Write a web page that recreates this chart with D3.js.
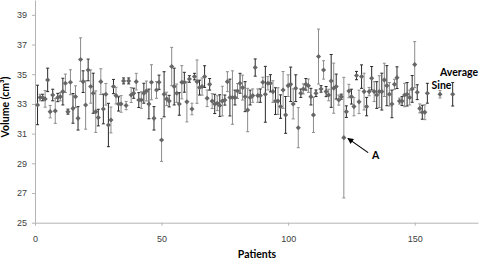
<!DOCTYPE html>
<html>
<head>
<meta charset="utf-8">
<script src="https://cdn.jsdelivr.net/npm/d3@7/dist/d3.min.js"></script>
<style>
    body { margin: 0; background: #fff; }
    svg { display: block; font-family: Lato, "Open Sans", sans-serif; }
    .axis path, .axis line { stroke: #b4b4b4; }
    .axis text { fill: #404040; font-size: 9px; }
    .title { font-weight: bold; font-size: 10.5px; fill: #000; }
</style>
</head>
<body>
<script>
var volumes = [
    32.93, 33.43, 33.43, 33.34, 34.62, 32.48, 33.6, 32.53, 33.43, 33.49,
    33.83, 34.39, 32.48, 34.46, 32.7, 33.49, 32.03, 35.99, 34.5, 32.93,
    35.29, 34.17, 33.72, 32.48, 32.08, 34.5, 32.66, 33.65, 31.58, 31.92,
    34.17, 33.56, 33.0, 33.0, 34.55, 32.89, 34.55, 33.6, 33.72, 34.5,
    33.26, 33.26, 33.72, 33.87, 33.0, 34.46, 32.03, 33.94, 34.46, 30.57,
    33.65, 33.34, 33.19, 35.52, 34.17, 33.72, 33.0, 34.46, 34.46, 33.14,
    34.68, 32.66, 34.84, 34.5, 34.1, 34.17, 34.84, 33.38, 34.32, 33.19,
    33.0, 33.05, 32.89, 33.19, 33.26, 34.5, 33.43, 33.43, 33.43, 33.87,
    34.39, 34.1, 33.49, 32.59, 33.43, 33.56, 35.45, 33.56, 33.56, 34.46,
    33.65, 34.39, 34.39, 33.83, 33.19, 33.19, 32.82, 33.94, 32.26, 34.23,
    34.32, 33.0, 34.06, 31.4, 33.72, 34.01, 34.32, 34.23, 33.49, 32.26,
    33.72, 36.19, 34.01, 35.29, 33.83, 33.6, 34.55, 34.06, 34.17, 33.26,
    33.49, 30.73, 32.48, 33.87, 33.49, 32.82, 34.91, 33.14, 34.84, 33.83,
    32.82, 33.83, 34.73, 33.83, 33.6, 33.83, 33.83, 34.62, 34.23, 33.65,
    33.0, 34.32, 34.77, 33.19, 33.19, 33.6, 33.65, 33.43, 34.01, 35.65,
    33.79, 32.7, 32.44, 32.44, 33.72
];
var errors = [
    1.33, 0.22, 0.22, 0.56, 0.79, 0.42, 0.39, 0.84, 0.28, 0.28,
    0.9, 0.62, 0.17, 0.84, 1.0, 0.73, 0.79, 1.46, 0.73, 1.63,
    0.73, 1.12, 1.35, 1.4, 0.56, 0.87, 1.0, 0.73, 1.46, 0.87,
    0.48, 0.56, 0.48, 0.56, 0.2, 0.28, 0.2, 0.5, 0.34, 0.56,
    0.5, 0.56, 0.67, 0.67, 1.0, 1.18, 0.79, 0.56, 0.48, 1.44,
    1.52, 0.45, 0.39, 1.29, 1.24, 0.62, 0.76, 1.12, 0.67, 1.35,
    0.22, 0.39, 0.22, 1.46, 0.5, 0.58, 0.73, 0.56, 0.39, 0.5,
    0.65, 0.5, 0.73, 1.0, 0.34, 0.67, 1.24, 1.8, 0.5, 0.5,
    0.67, 0.84, 1.01, 1.46, 0.5, 0.45, 0.58, 0.45, 0.45, 0.34,
    1.88, 0.45, 0.58, 0.73, 0.9, 0.9, 0.79, 1.24, 1.24, 0.73,
    1.16, 1.01, 0.9, 1.35, 0.28, 0.34, 0.39, 0.45, 0.56, 1.18,
    0.22, 1.85, 0.22, 0.62, 0.34, 0.39, 1.78, 1.69, 0.84, 0.34,
    0.17, 4.06, 0.39, 0.45, 0.5, 0.62, 0.28, 0.79, 0.79, 1.24,
    0.62, 0.28, 0.79, 0.67, 0.9, 1.07, 1.24, 1.12, 1.35, 0.79,
    0.93, 0.34, 0.73, 0.2, 0.3, 0.79, 0.79, 0.5, 0.9, 1.55,
    0.5, 0.3, 0.47, 0.5, 0.67
];
var summaryLabels = ['Sine', 'Average'],
    summaryPos = [160, 165],
    summaryValues = [33.65, 33.65],
    summaryErrors = [0.25, 0.79];
var xTicks = [0, 50, 100, 150],
    yTicks = [25, 27, 29, 31, 33, 35, 37, 39];

var points = volumes.map(function(v, i) {
    return { x: i + 1, value: v, err: errors[i] };
}).concat(summaryValues.map(function(v, i) {
    return { x: summaryPos[i], value: v, err: summaryErrors[i] };
}));

var svg = d3.select('body').append('svg')
        .attr('width', 480)
        .attr('height', 260),
    xScale = d3.scaleLinear().domain([0, 175]).range([35, 478]),
    yScale = d3.scaleLinear().domain([25, 40]).range([222.7, 0]);

svg.append('defs').append('marker')
    .attr('id', 'arrow')
    .attr('viewBox', '0 0 10 10')
    .attr('refX', 9)
    .attr('refY', 5)
    .attr('markerWidth', 5)
    .attr('markerHeight', 5)
    .attr('orient', 'auto')
    .append('path')
    .attr('d', 'M0,0L10,5L0,10Z')
    .attr('fill', '#000');

svg.append('g')
    .attr('class', 'axis')
    .attr('transform', 'translate(35,0)')
    .call(d3.axisLeft(yScale).tickValues(yTicks).tickSize(3).tickSizeOuter(0).tickPadding(5));

svg.append('g')
    .attr('class', 'axis')
    .attr('transform', 'translate(0,222.7)')
    .call(d3.axisBottom(xScale).tickValues(xTicks).tickSize(3).tickSizeOuter(0).tickPadding(10));

var bars = svg.append('g').selectAll('g')
    .data(points)
    .enter()
    .append('g')
    .attr('stroke', function(d, i) { return i % 2 ? '#8c8c8c' : '#2a2a2a'; })
    .attr('stroke-width', 1);

bars.append('line')
    .attr('x1', function(d) { return xScale(d.x); })
    .attr('x2', function(d) { return xScale(d.x); })
    .attr('y1', function(d) { return yScale(d.value + d.err); })
    .attr('y2', function(d) { return yScale(d.value - d.err); });

bars.selectAll('.cap')
    .data(function(d) { return [[d.x, d.value + d.err], [d.x, d.value - d.err]]; })
    .enter()
    .append('line')
    .attr('class', 'cap')
    .attr('x1', function(d) { return xScale(d[0]) - 1.5; })
    .attr('x2', function(d) { return xScale(d[0]) + 1.5; })
    .attr('y1', function(d) { return yScale(d[1]); })
    .attr('y2', function(d) { return yScale(d[1]); });

svg.append('g').selectAll('path')
    .data(points)
    .enter()
    .append('path')
    .attr('d', d3.symbol(d3.symbolSquare, 13))
    .attr('transform', function(d) { return 'translate(' + xScale(d.x) + ',' + yScale(d.value) + ') rotate(45)'; })
    .attr('fill', '#666');

// annotations
svg.append('line')
    .attr('x1', xScale(131.6))
    .attr('y1', yScale(29.72))
    .attr('x2', xScale(123.6))
    .attr('y2', yScale(30.68))
    .attr('stroke', '#000')
    .attr('stroke-width', 1.2)
    .attr('marker-end', 'url(#arrow)');

svg.append('text')
    .attr('class', 'title')
    .attr('x', xScale(133.1))
    .attr('y', yScale(29.28))
    .text('A');

svg.selectAll('.slabel')
    .data(summaryLabels)
    .enter()
    .append('text')
    .attr('class', 'title slabel')
    .attr('x', function(d, i) { return i ? 440 : 431.5; })
    .attr('y', function(d, i) { return i ? 76 : 88.5; })
    .text(function(d) { return d; });

svg.append('text')
    .attr('class', 'title')
    .attr('x', 257)
    .attr('y', 258)
    .attr('text-anchor', 'middle')
    .text('Patients');

svg.append('text')
    .attr('class', 'title')
    .attr('transform', 'translate(9,107) rotate(-90)')
    .attr('text-anchor', 'middle')
    .text('Volume (cm³)');
</script>
</body>
</html>
